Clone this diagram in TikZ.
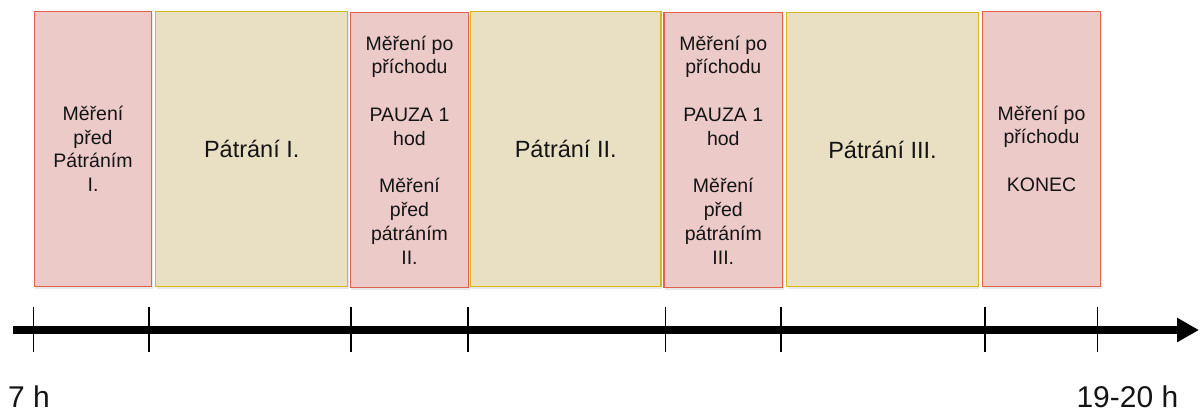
\documentclass[tikz,border=0pt]{standalone}
\usepackage{fontspec}
\setmainfont{Liberation Sans}
\usetikzlibrary{arrows.meta,shadows}

\definecolor{measfill}{HTML}{EBCAC8}
\definecolor{measdraw}{HTML}{E0624F}
\definecolor{searchfill}{HTML}{E9E0C4}
\definecolor{searchdraw}{HTML}{D6B818}
\definecolor{ink}{HTML}{141414}

\tikzset{
  phase/.style={rectangle, line width=1.3pt, inner sep=0pt, align=center,
    text=ink, drop shadow={shadow xshift=1pt, shadow yshift=-2.5pt,
    opacity=0.15, fill=black!60}},
  measbox/.style={phase, fill=measfill, draw=measdraw,
    font=\fontsize{19.5}{23.8}\selectfont},
  searchbox/.style={phase, fill=searchfill, draw=searchdraw,
    font=\fontsize{23.5}{28}\selectfont},
  tick/.style={line width=1.8pt, draw=black},
  timeaxis/.style={line width=8pt, draw=black,
    -{Triangle[length=22pt, width=23pt]}},
  timelabel/.style={inner sep=0pt, text=ink, font=\fontsize{30}{36}\selectfont}
}

\begin{document}
\begin{tikzpicture}[x=1pt, y=-1pt]
  \useasboundingbox (0,0) rectangle (1204,412);

  % phase boxes of the day
  \node[measbox, minimum width=117.4pt, minimum height=275pt] (m1) at (93,148.8)
    {Měření\\před\\Pátráním\\I.};
  \node[searchbox, minimum width=192pt, minimum height=275pt] (s1) at (251.7,148.8)
    {Pátrání I.};
  \node[measbox, minimum width=118.4pt, minimum height=274.6pt] (m2) at (409.5,150)
    {Měření po\\příchodu\\[23.8pt]PAUZA 1\\hod\\[23.8pt]Měření\\před\\pátráním\\II.};
  \node[searchbox, minimum width=190.7pt, minimum height=275pt] (s2) at (565.7,148.8)
    {Pátrání II.};
  \node[measbox, minimum width=118.7pt, minimum height=274.6pt] (m3) at (723.3,150)
    {Měření po\\příchodu\\[23.8pt]PAUZA 1\\hod\\[23.8pt]Měření\\před\\pátráním\\III.};
  \node[searchbox, minimum width=191.6pt, minimum height=273.6pt] (s3) at (882.5,149.5)
    {Pátrání III.};
  \node[measbox, minimum width=118.4pt, minimum height=275pt] (m4) at (1041.5,148.8)
    {Měření po\\příchodu\\[23.8pt]KONEC};

  % time axis
  \coordinate (axisstart) at (13.3,330);
  \coordinate (axisend) at (1199,330);
  \draw[timeaxis] (axisstart) -- (axisend);

  % tick marks at the phase boundaries
  \foreach \x [count=\i] in {33.5,149,351,467.7,665.5,781,985,1097.5} {
    \coordinate (tt\i) at (\x,307);
    \coordinate (tb\i) at (\x,352);
    \draw[tick] (tt\i) -- (tb\i);
  }

  % start and end of the day
  \node[timelabel, anchor=base west] (start) at (8,407.3) {7 h};
  \node[timelabel, anchor=base east] (finish) at (1178.5,407.3) {19-20 h};
\end{tikzpicture}
\end{document}
